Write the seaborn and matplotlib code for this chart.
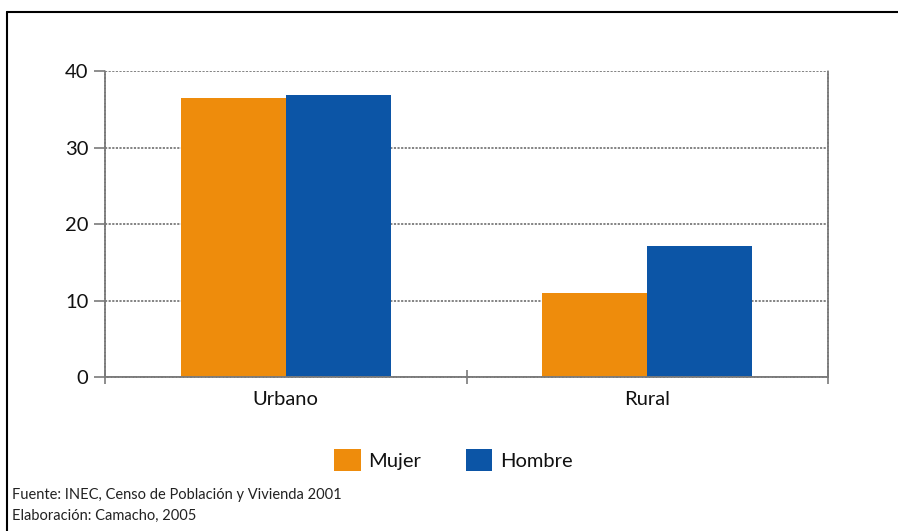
import pandas as pd
import matplotlib
matplotlib.use("Agg")
import matplotlib.pyplot as plt
from matplotlib.lines import Line2D
from matplotlib.patches import Patch
import seaborn as sns

# Data
areas = ["Urbano", "Rural"]
sexos = ["Mujer", "Hombre"]
mujer = [36.5, 11.0]
hombre = [36.9, 17.1]

colores = {"Mujer": "#EE8C0C", "Hombre": "#0C55A6"}

df = pd.DataFrame({
    "area": areas * 2,
    "sexo": ["Mujer"] * len(areas) + ["Hombre"] * len(areas),
    "valor": mujer + hombre,
})

sns.set_style("white")
plt.rcParams["font.family"] = ["Lato", "DejaVu Sans"]

fig = plt.figure(figsize=(8.98, 5.31), dpi=100)
ax = fig.add_axes([0.117, 0.29, 0.805, 0.576])

sns.barplot(
    data=df, x="area", y="valor", hue="sexo",
    order=areas, hue_order=sexos, palette=colores,
    width=0.58, gap=0, saturation=1, linewidth=0, ax=ax,
)

grid_gris = "#7a7a7a"
ax.set_xlim(-0.5, 1.5)
ax.set_ylim(0, 40)
ax.set_yticks([0, 10, 20, 30, 40])
ax.set_xticks([-0.5, 0.5, 1.5], minor=False)
ax.set_xticks([0, 1], minor=True)
ax.set_xticklabels(["", "", ""])
ax.set_xticklabels(areas, minor=True)
ax.tick_params(axis="x", which="minor", bottom=False, length=0, pad=10, labelsize=14.5, labelcolor="#111111")
ax.tick_params(axis="x", which="major", bottom=True, length=10, width=1.2, color=grid_gris, direction="inout")
ax.tick_params(axis="y", left=True, length=8, width=1.2, color=grid_gris, labelsize=14.5, pad=4, labelcolor="#111111")
ax.set_xlabel("")
ax.set_ylabel("")

ax.grid(axis="y", linestyle=(0, (1.2, 0.8)), color=grid_gris, linewidth=1.3)
ax.set_axisbelow(True)
for side in ["left", "right", "bottom"]:
    ax.spines[side].set_visible(True)
    ax.spines[side].set_linestyle((0, (1.2, 0.8)))
    ax.spines[side].set_color(grid_gris)
    ax.spines[side].set_linewidth(1.3)
ax.spines["top"].set_visible(False)

ax.legend_.remove()
handles = [Patch(facecolor=colores[s], edgecolor="none") for s in sexos]
fig.legend(handles, sexos, loc="center", bbox_to_anchor=(0.505, 0.134), ncol=2,
           frameon=False, fontsize=14.5, handlelength=1.3, handleheight=1.3,
           handletextpad=0.4, columnspacing=2.2, labelcolor="#111111")

fig.text(0.013, 0.067, "Fuente: INEC, Censo de Población y Vivienda 2001", fontsize=10.5, va="center", color="#222222")
fig.text(0.013, 0.029, "Elaboración: Camacho, 2005", fontsize=10.5, va="center", color="#222222")

# outer frame (left and top only)
fig.add_artist(Line2D([0.008, 0.008], [0, 0.977], color="black", linewidth=1.5, transform=fig.transFigure))
fig.add_artist(Line2D([0.008, 1.0], [0.977, 0.977], color="black", linewidth=1.5, transform=fig.transFigure))

fig.savefig("out.png", dpi=100)
